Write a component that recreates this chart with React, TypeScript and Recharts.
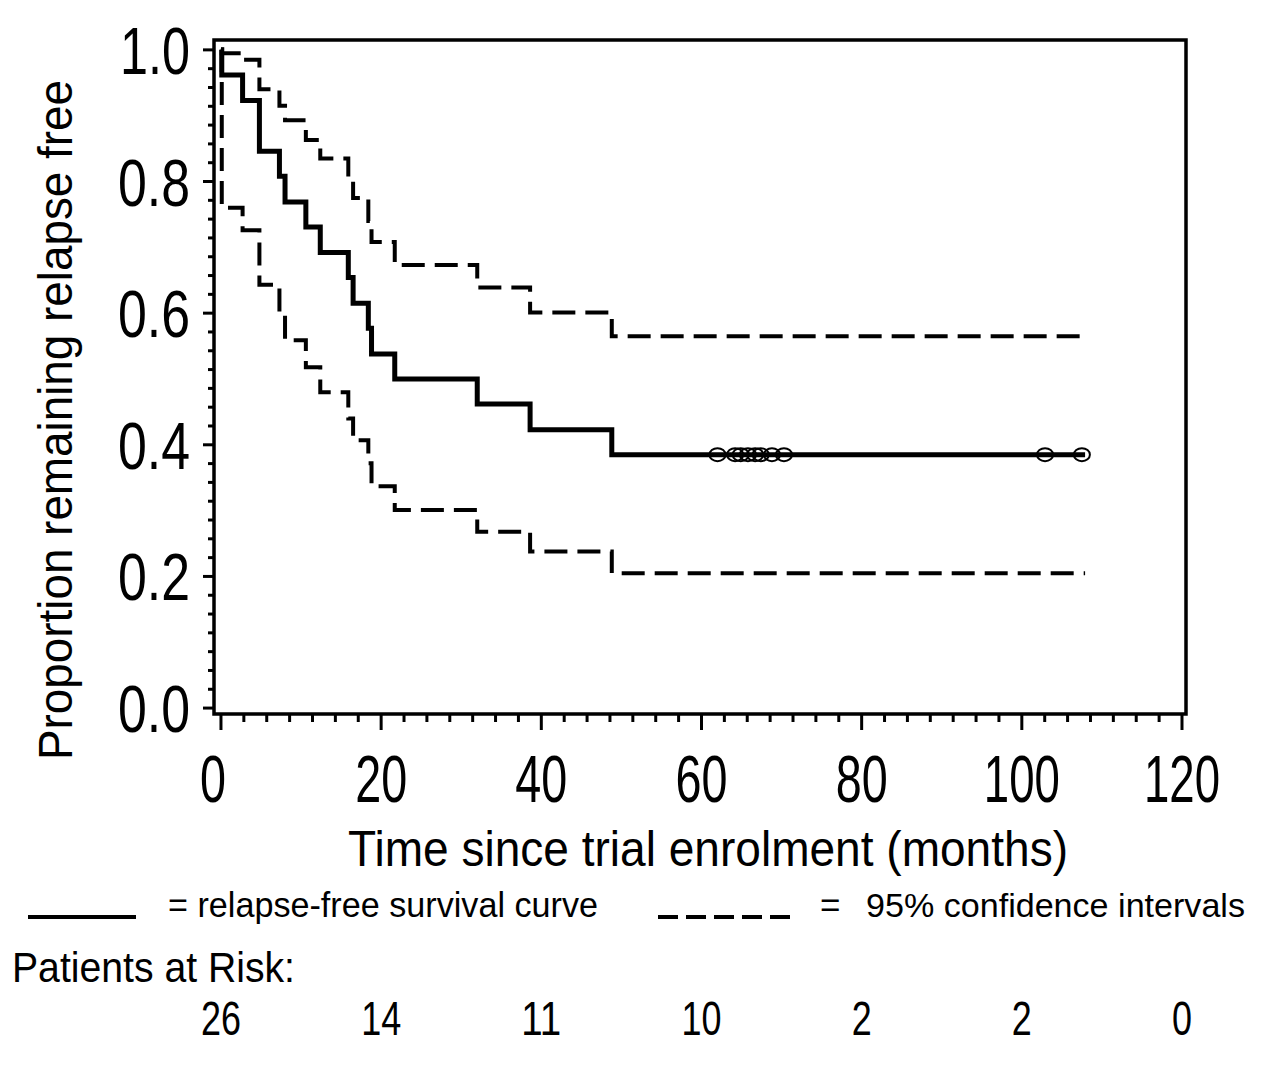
import { ComposedChart, Line, Scatter, XAxis, YAxis, ReferenceArea } from 'recharts';

// Kaplan-Meier step points (months since enrolment)
const eventTimes = [0, 0.1, 2.7, 4.8, 7.3, 8.0, 10.6, 12.4, 15.9, 16.5, 18.4, 18.8, 21.7, 32.0, 38.6, 48.8, 107.9];
const survival = [1, 0.962, 0.923, 0.846, 0.808, 0.769, 0.731, 0.692, 0.654, 0.615, 0.577, 0.538, 0.5, 0.462, 0.423, 0.385, 0.385];
const lowerCI = [1, 0.76, 0.726, 0.643, 0.6, 0.559, 0.518, 0.48, 0.44, 0.407, 0.372, 0.337, 0.301, 0.268, 0.238, 0.205, 0.205];
const upperCI = [1, 0.995, 0.985, 0.94, 0.915, 0.893, 0.863, 0.835, 0.8, 0.775, 0.74, 0.708, 0.673, 0.639, 0.601, 0.565, 0.565];

// censored observations
const censorTimes = [62.0, 64.2, 64.9, 65.8, 66.7, 67.4, 68.8, 70.3, 102.9, 107.5];
const censorLevel = 0.385;

const xTicks = [0, 20, 40, 60, 80, 100, 120];
const atRisk = [26, 14, 11, 10, 2, 2, 0];

const xDomain = [-0.87, 120.5];
const yDomain = [-0.009, 1.015];

const FONT = "'Liberation Sans', Arial, sans-serif";

const kmData = eventTimes.map((t, i) => ({ t, surv: survival[i], lower: lowerCI[i], upper: upperCI[i] }));
const censorData = censorTimes.map((t) => ({ t, s: censorLevel }));

// minor ticks: 7 per major interval
const xMinor = Array.from({ length: 43 }, (_, k) => (k * 20) / 7);
const yMinor = Array.from({ length: 36 }, (_, k) => (k * 0.2) / 7);

const charW: Record<string, number> = { '1': 24, '.': 20 };
const labelWidth = (s: string) => s.split('').reduce((w, c) => w + (charW[c] ?? 26), 0);

const isMajor = (v: number, step: number) => Math.abs(v / step - Math.round(v / step)) < 1e-6;

function XTick({ x, y, payload }: any) {
  const v = payload.value;
  const major = isMajor(v, 20);
  const label = String(Math.round(v));
  return (
    <g>
      <line x1={x} x2={x} y1={y} y2={y + (major ? 16 : 8)} stroke="#000" strokeWidth={3} />
      {major && (
        <text x={label === '0' ? x - 8 : x} y={y + 88} textAnchor="middle" fontFamily={FONT} fontSize={66}
          fill="#000" textLength={labelWidth(label)} lengthAdjust="spacingAndGlyphs">
          {label}
        </text>
      )}
    </g>
  );
}

function YTick({ x, y, payload }: any) {
  const v = payload.value;
  const major = isMajor(v, 0.2);
  const label = v.toFixed(1);
  return (
    <g>
      <line x1={x} x2={x - (major ? 11 : 6)} y1={y} y2={y} stroke="#000" strokeWidth={3} />
      {major && (
        <text x={x - 24} y={y + 24} textAnchor="end" fontFamily={FONT} fontSize={66} fill="#000"
          textLength={labelWidth(label)} lengthAdjust="spacingAndGlyphs">
          {label}
        </text>
      )}
    </g>
  );
}

function RiskTick({ x, index }: any) {
  const n = String(atRisk[index] ?? '');
  return (
    <text x={x} y={1035} textAnchor="middle" fontFamily={FONT} fontSize={48} fill="#000"
      textLength={20 * n.length} lengthAdjust="spacingAndGlyphs">
      {n}
    </text>
  );
}

const CensorMark = (props: any) => (
  <ellipse cx={props.cx} cy={props.cy} rx={8} ry={6.5} fill="none" stroke="#000" strokeWidth={2} />
);

export default function App() {
  return (
    <div style={{ position: 'absolute', left: 0, top: 0, width: 1280, height: 1080, background: '#fff' }}>
      <ComposedChart width={1280} height={1080} data={kmData}
        margin={{ top: 40, right: 94, left: 114, bottom: 246 }}>
        <XAxis dataKey="t" type="number" domain={xDomain} allowDataOverflow ticks={xMinor} interval={0}
          axisLine={false} tickLine={false} tickSize={0} tickMargin={0} height={100} tick={<XTick />} />
        <XAxis xAxisId="risk" dataKey="t" type="number" domain={xDomain} allowDataOverflow ticks={xTicks}
          interval={0} axisLine={false} tickLine={false} height={20} tick={<RiskTick />} />
        <YAxis type="number" domain={yDomain} allowDataOverflow ticks={yMinor} interval={0}
          axisLine={false} tickLine={false} tickSize={0} tickMargin={0} width={100} tick={<YTick />} />
        <ReferenceArea x1={xDomain[0]} x2={xDomain[1]} y1={yDomain[0]} y2={yDomain[1]}
          fill="none" stroke="#000" strokeWidth={3.5} ifOverflow="visible" />
        <Line dataKey="upper" type="stepAfter" stroke="#000" strokeWidth={4} strokeDasharray="23 10"
          dot={false} isAnimationActive={false} />
        <Line dataKey="lower" type="stepAfter" stroke="#000" strokeWidth={4} strokeDasharray="23 10"
          dot={false} isAnimationActive={false} />
        <Line dataKey="surv" type="stepAfter" stroke="#000" strokeWidth={5} dot={false}
          isAnimationActive={false} />
        <Scatter data={censorData} dataKey="s" shape={<CensorMark />} isAnimationActive={false} />
      </ComposedChart>

      <svg width={1280} height={1080} style={{ position: 'absolute', left: 0, top: 0, pointerEvents: 'none' }}>
        <g fontFamily={FONT} fill="#000">
          <text transform="translate(72,420) rotate(-90)" textAnchor="middle" fontSize={48}
            textLength={680} lengthAdjust="spacingAndGlyphs">
            Proportion remaining relapse free
          </text>
          <text x={708} y={866} textAnchor="middle" fontSize={50} textLength={720} lengthAdjust="spacingAndGlyphs">
            Time since trial enrolment (months)
          </text>

          <line x1={28} x2={136} y1={917} y2={917} stroke="#000" strokeWidth={4} />
          <text x={168} y={917} fontSize={35} textLength={430} lengthAdjust="spacingAndGlyphs">
            = relapse-free survival curve
          </text>
          <line x1={658} x2={790} y1={917} y2={917} stroke="#000" strokeWidth={4} strokeDasharray="20 8" />
          <text x={820} y={917} fontSize={35}>=</text>
          <text x={866} y={917} fontSize={34} textLength={379} lengthAdjust="spacingAndGlyphs">
            95% confidence intervals
          </text>

          <text x={12} y={982} fontSize={42} textLength={283} lengthAdjust="spacingAndGlyphs">
            Patients at Risk:
          </text>
        </g>
      </svg>
    </div>
  );
}
